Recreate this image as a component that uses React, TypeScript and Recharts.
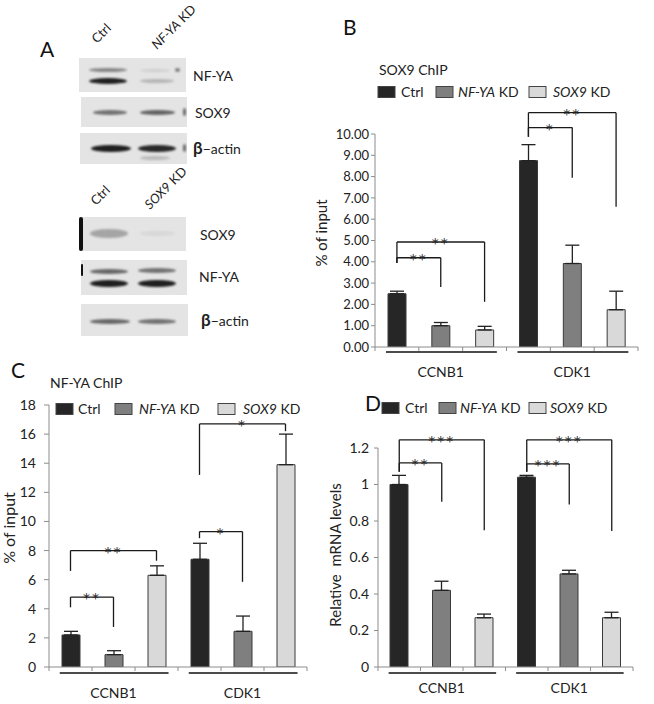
import React from 'react';
import { BarChart, Bar, XAxis, YAxis, Cell, ErrorBar, ReferenceLine } from 'recharts';

const FONT = 'Lato, "Open Sans", sans-serif';
const STAR_FONT = '"DejaVu Sans", sans-serif';

// ---------- data ----------
const series = ['Ctrl', 'NF-YA KD', 'SOX9 KD'];
const seriesItalic = ['', 'NF-YA', 'SOX9'];
const seriesColors = ['#262626', '#7f7f7f', '#d9d9d9'];
const genes = ['CCNB1', 'CDK1'];

const sox9ChipValues = [2.5, 1.0, 0.8, 8.75, 3.92, 1.75];
const sox9ChipErrors = [0.12, 0.15, 0.17, 0.75, 0.86, 0.87];
const sox9ChipTicks = [0, 1, 2, 3, 4, 5, 6, 7, 8, 9, 10];

const nfyaChipValues = [2.2, 0.85, 6.3, 7.4, 2.45, 13.9];
const nfyaChipErrors = [0.25, 0.27, 0.65, 1.1, 1.05, 2.1];
const nfyaChipTicks = [0, 2, 4, 6, 8, 10, 12, 14, 16, 18];

const mrnaValues = [1.0, 0.42, 0.27, 1.04, 0.51, 0.27];
const mrnaErrors = [0.05, 0.05, 0.02, 0.01, 0.02, 0.03];
const mrnaTicks = [0, 0.2, 0.4, 0.6, 0.8, 1.0, 1.2];

// significance brackets: [fromIndex, toIndex, top, leftBottom, rightBottom, label]
const sox9ChipBrackets: [number, number, number, number, number, string][] = [
  [0, 1, 4.19, 3.94, 2.82, '**'],
  [0, 2, 4.93, 3.94, 2.12, '**'],
  [3, 4, 10.3, 9.87, 7.95, '*'],
  [3, 5, 11.0, 9.87, 6.59, '**'],
];
const nfyaChipBrackets: [number, number, number, number, number, string][] = [
  [0, 1, 4.8, 4.1, 2.75, '**'],
  [0, 2, 8.0, 6.6, 7.3, '**'],
  [3, 4, 9.3, 8.85, 5.85, '*'],
  [3, 5, 16.7, 13.2, 16.2, '*'],
];
const mrnaBrackets: [number, number, number, number, number, string][] = [
  [0, 1, 1.118, 1.07, 0.905, '**'],
  [0, 2, 1.245, 1.07, 0.75, '***'],
  [3, 4, 1.113, 1.07, 0.89, '***'],
  [3, 5, 1.245, 1.07, 0.745, '***'],
];

const makeRows = (values: number[], errors: number[]) =>
  values.map((v, i) => ({
    key: `${genes[Math.floor(i / 3)]} ${series[i % 3]}`,
    value: v,
    err: [0, errors[i]],
    color: seriesColors[i % 3],
  }));

// ---------- chart panel ----------
const makeGroupTick = (band: number, labelDy: number, lineDy: number) => (props: any) => {
  const { x, y, index } = props;
  const els: any[] = [];
  els.push(<line key="t0" x1={x - band / 2} x2={x - band / 2} y1={y} y2={y + 4} stroke="#8c8c8c" strokeWidth={1} />);
  if (index === 5) {
    els.push(<line key="t1" x1={x + band / 2} x2={x + band / 2} y1={y} y2={y + 4} stroke="#8c8c8c" strokeWidth={1} />);
  }
  if (index % 3 === 1) {
    els.push(
      <line key="u" x1={x - band * 1.25} x2={x + band * 1.28} y1={y + lineDy} y2={y + lineDy} stroke="#111" strokeWidth={1.6} />
    );
    els.push(
      <text key="l" x={x} y={y + labelDy} textAnchor="middle" fontSize={14} fontFamily={FONT} fill="#222">
        {genes[Math.floor(index / 3)]}
      </text>
    );
  }
  return <g>{els}</g>;
};

type PanelProps = {
  left: number; top: number; width: number; height: number;
  margin: { top: number; right: number; bottom: number; left: number };
  values: number[]; errors: number[];
  domain: [number, number]; ticks: number[]; fmt: (v: number) => string;
  yWidth: number; tickSize: number; tickMargin: number; tickFont: number;
  brackets: [number, number, number, number, number, string][];
  labelDy: number; lineDy: number; starFont: number;
};

const Panel = (p: PanelProps) => {
  const data = makeRows(p.values, p.errors);
  const keys = data.map((d) => d.key);
  const band = (p.width - p.margin.left - p.margin.right - p.yWidth) / 6;
  const bs = { stroke: '#1a1a1a', strokeWidth: 1.3, ifOverflow: 'visible' as const };
  return (
    <div style={{ position: 'absolute', left: p.left, top: p.top, width: p.width, height: p.height }}>
      <BarChart width={p.width} height={p.height} data={data} margin={p.margin} barCategoryGap={0}>
        <XAxis
          dataKey="key"
          interval={0}
          tickLine={false}
          tickSize={0}
          tickMargin={0}
          height={30}
          stroke="#8c8c8c"
          tick={makeGroupTick(band, p.labelDy, p.lineDy)}
        />
        <YAxis
          domain={p.domain}
          ticks={p.ticks}
          width={p.yWidth}
          interval={0}
          tickSize={p.tickSize}
          tickMargin={p.tickMargin}
          stroke="#8c8c8c"
          tickFormatter={p.fmt}
          tick={{ fontSize: p.tickFont, fill: '#222', fontFamily: FONT }}
          allowDataOverflow
        />
        <Bar dataKey="value" barSize={18} isAnimationActive={false} stroke="#3a3a3a" strokeWidth={1}>
          {data.map((d, i) => (
            <Cell key={i} fill={d.color} />
          ))}
          <ErrorBar dataKey="err" width={7} stroke="#222" strokeWidth={1.3} direction="y" />
        </Bar>
        {p.brackets.map((b, i) => (
          <ReferenceLine
            key={`h${i}`}
            segment={[{ x: keys[b[0]], y: b[2] }, { x: keys[b[1]], y: b[2] }]}
            {...bs}
            label={{ value: b[5], position: 'top', offset: -6, fontSize: p.starFont, fill: '#222', stroke: 'none', fontFamily: STAR_FONT, letterSpacing: 2 }}
          />
        ))}
        {p.brackets.map((b, i) => (
          <ReferenceLine key={`l${i}`} segment={[{ x: keys[b[0]], y: b[2] }, { x: keys[b[0]], y: b[3] }]} {...bs} />
        ))}
        {p.brackets.map((b, i) => (
          <ReferenceLine key={`r${i}`} segment={[{ x: keys[b[1]], y: b[2] }, { x: keys[b[1]], y: b[4] }]} {...bs} />
        ))}
      </BarChart>
    </div>
  );
};

// ---------- legend ----------
const Legend = ({ y, squares, texts }: { y: number; squares: number[]; texts: number[] }) => (
  <g>
    {series.map((s, i) => (
      <g key={s}>
        <rect x={squares[i]} y={y - 5.5} width={17} height={11} fill={seriesColors[i]} stroke="#444" strokeWidth={1} />
        <text x={texts[i]} y={y + 5} fontSize={14} fontFamily={FONT} fill="#222">
          {seriesItalic[i] ? (
            <>
              <tspan fontStyle="italic">{seriesItalic[i]}</tspan>
              <tspan>{s.slice(seriesItalic[i].length)}</tspan>
            </>
          ) : (
            s
          )}
        </text>
      </g>
    ))}
  </g>
);

// ---------- western blot panel A ----------
type Band = [number, number, number, number, number];
const blots: { box: [number, number, number, number]; bands: Band[]; edge?: [number, number, number, number]; label: string; lx: number; ly: number }[] = [
  { box: [79, 58, 107, 34], bands: [[89, 68, 38, 4, 0.45], [89, 78, 38, 6, 0.95], [140, 79, 34, 4, 0.22], [140, 69, 30, 3, 0.1], [175, 68, 5, 4, 0.5]], label: 'NF-YA', lx: 193, ly: 81 },
  { box: [81, 97, 106, 30], bands: [[93, 110, 34, 5, 0.55], [140, 110, 35, 5, 0.62], [183, 108, 3, 8, 0.6]], label: 'SOX9', lx: 195, ly: 118 },
  { box: [80, 133, 107, 31], bands: [[91, 145, 40, 7, 0.95], [138, 145, 38, 7, 0.9], [140, 156, 30, 4, 0.2], [183, 144, 3, 8, 0.6]], label: '\u03b2\u2212actin', lx: 193, ly: 154 },
  { box: [79, 217, 107, 34], bands: [[90, 229, 38, 9, 0.3], [140, 231, 35, 5, 0.06]], edge: [79, 217, 4, 34], label: 'SOX9', lx: 200, ly: 240 },
  { box: [81, 260, 106, 35], bands: [[90, 269, 38, 5, 0.6], [138, 268, 38, 5, 0.55], [90, 280, 38, 7, 0.95], [138, 280, 38, 7, 0.95]], edge: [81, 264, 2, 12], label: 'NF-YA', lx: 199, ly: 282 },
  { box: [81, 304, 107, 32], bands: [[90, 319, 40, 5, 0.6], [138, 319, 38, 5, 0.55]], label: '\u03b2\u2212actin', lx: 201, ly: 326 },
];

const laneLabels: { x: number; y: number; italic: string; rest: string }[] = [
  { x: 97, y: 44, italic: '', rest: 'Ctrl' },
  { x: 157, y: 50, italic: 'NF-YA', rest: ' KD' },
  { x: 96, y: 206, italic: '', rest: 'Ctrl' },
  { x: 150, y: 210, italic: 'SOX9', rest: ' KD' },
];

const Blots = () => (
  <>
    {blots.map((b, i) => (
      <div key={i} style={{ position: 'absolute', left: b.box[0], top: b.box[1], width: b.box[2], height: b.box[3], background: '#e4e4e4', overflow: 'hidden' }}>
        {b.bands.map((bd, j) => (
          <div
            key={j}
            style={{
              position: 'absolute',
              left: bd[0] - b.box[0],
              top: bd[1] - b.box[1],
              width: bd[2],
              height: bd[3],
              background: `rgba(20,20,20,${bd[4]})`,
              borderRadius: '50%',
              filter: 'blur(1.2px)',
            }}
          />
        ))}
        {b.edge && (
          <div style={{ position: 'absolute', left: b.edge[0] - b.box[0], top: b.edge[1] - b.box[1], width: b.edge[2], height: b.edge[3], background: '#111', borderRadius: 2, filter: 'blur(0.6px)' }} />
        )}
      </div>
    ))}
  </>
);

// ---------- app ----------
export default function App() {
  return (
    <div style={{ position: 'absolute', left: 0, top: 0, width: 654, height: 704, background: '#fff', overflow: 'hidden', fontFamily: FONT }}>
      <Blots />
      <Panel
        left={330} top={100} width={324} height={290}
        margin={{ top: 34, right: 16, bottom: 13, left: 0 }}
        values={sox9ChipValues} errors={sox9ChipErrors}
        domain={[0, 10]} ticks={sox9ChipTicks} fmt={(v) => v.toFixed(2)}
        yWidth={45} tickSize={4} tickMargin={2} tickFont={13}
        brackets={sox9ChipBrackets} labelDy={30} lineDy={5} starFont={14}
      />
      <Panel
        left={0} top={380} width={320} height={324}
        margin={{ top: 25, right: 13, bottom: 7, left: 0 }}
        values={nfyaChipValues} errors={nfyaChipErrors}
        domain={[0, 18]} ticks={nfyaChipTicks} fmt={(v) => String(v)}
        yWidth={49} tickSize={5} tickMargin={8} tickFont={14}
        brackets={nfyaChipBrackets} labelDy={31} lineDy={6} starFont={14}
      />
      <Panel
        left={330} top={400} width={324} height={304}
        margin={{ top: 48, right: 21, bottom: 7, left: 0 }}
        values={mrnaValues} errors={mrnaErrors}
        domain={[0, 1.2]} ticks={mrnaTicks} fmt={(v) => String(Math.round(v * 10) / 10)}
        yWidth={48} tickSize={4} tickMargin={5} tickFont={14}
        brackets={mrnaBrackets} labelDy={26} lineDy={6} starFont={14}
      />
      <svg width={654} height={704} style={{ position: 'absolute', left: 0, top: 0, pointerEvents: 'none' }}>
        {/* panel letters */}
        <text x={40} y={57} fontSize={21} fontFamily={FONT} fill="#111">A</text>
        <text x={343} y={35} fontSize={21} fontFamily={FONT} fill="#111">B</text>
        <text x={11} y={378} fontSize={21} fontFamily={FONT} fill="#111">C</text>
        <text x={365} y={411} fontSize={21} fontFamily={FONT} fill="#111">D</text>
        {/* titles */}
        <text x={379} y={75} fontSize={14} fontFamily={FONT} fill="#222">SOX9 ChIP</text>
        <text x={50} y={388} fontSize={14} fontFamily={FONT} fill="#222">NF-YA ChIP</text>
        {/* legends */}
        <Legend y={92} squares={[378, 436, 529]} texts={[401, 458, 553]} />
        <Legend y={409} squares={[56, 115, 218]} texts={[78, 139, 243]} />
        <Legend y={408} squares={[382, 439, 529]} texts={[405, 460, 550]} />
        {/* y-axis titles */}
        <text transform="translate(327,233) rotate(-90)" textAnchor="middle" fontSize={15} fontFamily={FONT} fill="#222">% of input</text>
        <text transform="translate(15,528) rotate(-90)" textAnchor="middle" fontSize={16} fontFamily={FONT} fill="#222">% of input</text>
        <text transform="translate(341,555) rotate(-90)" textAnchor="middle" fontSize={15} fontFamily={FONT} fill="#222" style={{ whiteSpace: 'pre' }}>Relative  mRNA levels</text>
        {/* blot labels */}
        {blots.map((b, i) => (
          <text key={i} x={b.lx} y={b.ly} fontSize={14} fontFamily={FONT} fill="#222">
            {b.label.startsWith('\u03b2') ? (
              <>
                <tspan fontWeight="bold" fontSize={17}>{'\u03b2'}</tspan>
                <tspan>{b.label.slice(1)}</tspan>
              </>
            ) : (
              b.label
            )}
          </text>
        ))}
        {laneLabels.map((l, i) => (
          <text key={i} transform={`translate(${l.x},${l.y}) rotate(-45)`} fontSize={13} fontFamily={FONT} fill="#222">
            {l.italic && <tspan fontStyle="italic">{l.italic}</tspan>}
            <tspan>{l.rest}</tspan>
          </text>
        ))}
      </svg>
    </div>
  );
}
